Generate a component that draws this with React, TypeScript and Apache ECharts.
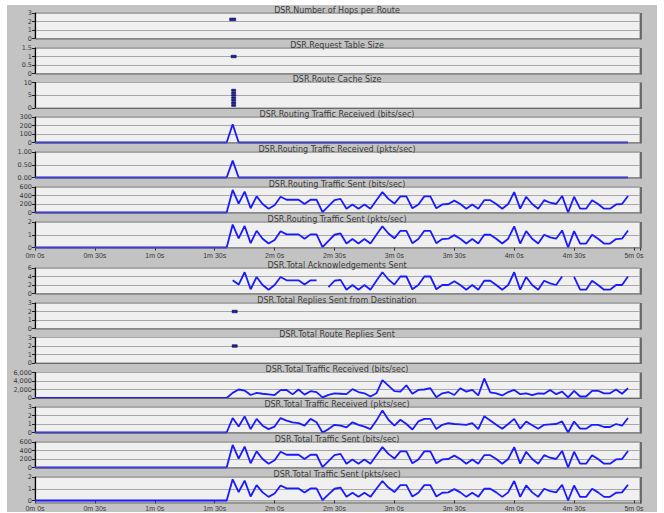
import React, { useEffect, useRef } from 'react';
import * as echarts from 'echarts';

// ---------- data (seconds of simulation time) ----------
const sampleTimes = [0, 96, 99, 102, 105, 108, 111, 114, 117, 120, 123, 126, 129, 132, 135, 138, 141, 144, 147, 150, 153, 156, 159, 162, 165, 168, 171, 174, 177, 180, 183, 186, 189, 192, 195, 198, 201, 204, 207, 210, 213, 216, 219, 222, 225, 228, 231, 234, 237, 240, 243, 246, 249, 252, 255, 258, 261, 264, 267, 270, 273, 276, 279, 282, 285, 288, 291, 294, 297];

const routingTrafficSentBits = [0, 0, 530, 210, 490, 100, 380, 200, 90, 170, 370, 300, 300, 300, 200, 300, 300, 10, 150, 290, 320, 90, 190, 90, 190, 90, 290, 480, 320, 210, 380, 380, 100, 190, 380, 380, 100, 190, 200, 280, 200, 90, 190, 90, 290, 290, 200, 90, 200, 480, 90, 370, 200, 90, 290, 230, 200, 390, 0, 370, 90, 90, 290, 200, 90, 90, 190, 200, 390];

const routingTrafficSentPkts = [0, 0, 1.8, 0.72, 1.69, 0.34, 1.31, 0.69, 0.31, 0.59, 1.28, 1.03, 1.03, 1.03, 0.69, 1.03, 1.03, 0.03, 0.52, 1.0, 1.1, 0.31, 0.66, 0.31, 0.66, 0.31, 1.0, 1.66, 1.1, 0.72, 1.31, 1.31, 0.34, 0.66, 1.31, 1.31, 0.34, 0.66, 0.69, 0.97, 0.69, 0.31, 0.66, 0.31, 1.0, 1.0, 0.69, 0.31, 0.69, 1.66, 0.31, 1.28, 0.69, 0.31, 1.0, 0.79, 0.69, 1.34, 0, 1.28, 0.31, 0.31, 1.0, 0.69, 0.31, 0.31, 0.66, 0.69, 1.34];

const acknowledgementsSent = [null, null, 3.1, 2.1, 5.0, 1.0, 3.9, 2.0, 0.9, 2.0, 3.9, 3.1, 3.1, 3.1, 2.1, 3.1, 3.1, null, 1.5, 3.0, 3.2, 0.9, 2.0, 0.9, 2.0, 0.9, 3.0, 5.0, 3.3, 2.1, 4.0, 4.0, 1.0, 2.0, 4.0, 4.0, 1.0, 2.0, 2.0, 2.9, 2.0, 0.9, 2.0, 0.9, 3.0, 3.0, 2.0, 0.9, 2.0, 5.0, 0.9, 3.9, 2.0, 0.9, 3.0, 2.4, 2.0, 4.0, null, 3.9, 0.9, 0.9, 3.0, 2.0, 0.9, 0.9, 2.0, 2.0, 4.0];

const totalTrafficReceivedBits = [0, 0, 1200, 2000, 1750, 700, 1200, 1000, 850, 700, 1850, 1900, 850, 2000, 800, 1600, 1400, 150, 750, 1100, 1000, 900, 2100, 1400, 1100, 350, 1100, 4200, 2900, 1600, 1500, 3000, 1000, 1900, 2000, 2300, 200, 1100, 1400, 700, 2300, 1500, 1900, 600, 4600, 1300, 1100, 600, 1400, 1900, 900, 1100, 700, 1100, 1000, 1900, 900, 1500, 150, 1700, 350, 350, 1700, 1700, 1100, 1100, 2000, 1000, 2300];

const totalTrafficReceivedPkts = [0, 0, 1.7, 0.7, 1.9, 0.4, 1.6, 0.8, 0.4, 0.7, 1.7, 1.4, 1.2, 1.1, 0.8, 1.6, 1.2, 0, 0.4, 0.9, 0.8, 0.6, 1.2, 0.9, 0.7, 0.4, 1.4, 2.6, 1.5, 0.8, 1.5, 1.0, 0.35, 1.3, 1.6, 1.6, 0.4, 0.9, 1.1, 1.0, 0.95, 0.9, 1.1, 0.4, 1.9, 1.4, 0.9, 0.45, 1.0, 1.6, 0.45, 1.3, 0.85, 0.45, 0.9, 0.95, 1.0, 1.3, 0, 1.3, 0.45, 0.45, 0.9, 0.9, 0.65, 0.65, 1.0, 0.8, 1.7];

const totalTrafficSentBits = routingTrafficSentBits;
const totalTrafficSentPkts = routingTrafficSentPkts;

const routingReceivedTimes = [0, 96, 99, 102, 297];
const routingTrafficReceivedBits = [0, 0, 215, 0, 0];
const routingTrafficReceivedPkts = [0, 0, 0.66, 0, 0];

const hopsTimes = [99];
const hopsPerRoute = [2.25];
const requestTableTimes = [99.5];
const requestTableSize = [1];
const routeCacheTimes = [99.5, 99.5, 99.5, 99.5, 99.5, 99.5, 99.5];
const routeCacheSize = [1, 2, 3, 4, 5, 6, 7];
const repliesTimes = [100];
const repliesFromDestination = [2];
const routeRepliesTimes = [100];
const routeRepliesSent = [2];

const panelTitles = [
  'DSR.Number of Hops per Route',
  'DSR.Request Table Size',
  'DSR.Route Cache Size',
  'DSR.Routing Traffic Received (bits/sec)',
  'DSR.Routing Traffic Received (pkts/sec)',
  'DSR.Routing Traffic Sent (bits/sec)',
  'DSR.Routing Traffic Sent (pkts/sec)',
  'DSR.Total Acknowledgements Sent',
  'DSR.Total Replies Sent from Destination',
  'DSR.Total Route Replies Sent',
  'DSR.Total Traffic Received (bits/sec)',
  'DSR.Total Traffic Received (pkts/sec)',
  'DSR.Total Traffic Sent (bits/sec)',
  'DSR.Total Traffic Sent (pkts/sec)',
];
const yMaxes = [3, 1.5, 10, 300, 1, 600, 2, 6, 3, 3, 6000, 3, 600, 2];
const yIntervals = [1, 0.5, 5, 100, 0.5, 200, 1, 2, 1, 1, 2000, 1, 200, 1];
const timeTicks = [0, 30, 60, 90, 120, 150, 180, 210, 240, 270, 300];

export default function App() {
  const ref = useRef<HTMLDivElement>(null);
  useEffect(() => {
    const chart = echarts.init(ref.current!, null, { renderer: 'svg' });
    const OX = 7, OY = 5;
    const tops = [13, 48, 82.5, 117, 152, 187, 222, 268, 303, 337.5, 372.5, 407, 442, 477];
    const H = 25.5;
    const L = 35, R = 640;
    const font = 'Arial';
    const wideFont = 'DejaVu Sans';
    const textColor = '#3a3a3a';

    const grids = tops.map((t) => ({
      left: L - OX, top: t - OY, width: R - L, height: H,
      show: true, backgroundColor: '#f0f0f0', borderColor: '#8a8a8a', borderWidth: 1,
    }));
    const fmtTime = (v: number) =>
      timeTicks.indexOf(v) >= 0 ? `${Math.floor(v / 60)}m ${v % 60}s` : '';
    const xAxes = tops.map((_, i) => {
      const showLab = i === 6 || i === 13;
      return {
        type: 'value', gridIndex: i, min: 0, max: 303, interval: 30,
        axisLine: { show: false },
        axisTick: { show: showLab, length: 3, lineStyle: { color: '#222' } },
        axisLabel: { show: showLab, fontSize: 7, color: textColor, margin: 4.5, fontFamily: font, formatter: fmtTime },
        splitLine: { show: false },
      };
    });
    const yFmt = (i: number) => (v: number) => {
      if (i === 4) return v.toFixed(2);
      if (i === 10) return v.toLocaleString('en-US');
      return String(v);
    };
    const yAxes = tops.map((_, i) => ({
      type: 'value', gridIndex: i, min: 0, max: yMaxes[i], interval: yIntervals[i],
      axisLine: { show: true, lineStyle: { color: '#000', width: 1.2 } },
      axisTick: { show: true, length: 3, lineStyle: { color: '#222' } },
      axisLabel: { fontSize: 6.5, color: textColor, margin: 3, fontFamily: wideFont, formatter: yFmt(i) },
      splitLine: { show: true, lineStyle: { color: '#a8a8a8', width: 1 } },
    }));

    const pairs = (xs: number[], ys: (number | null)[]) =>
      xs.map((x, k) => [x, ys[k] === null ? '-' : ys[k]]);
    const line = (i: number, xs: number[], ys: (number | null)[]) => ({
      type: 'line', xAxisIndex: i, yAxisIndex: i, data: pairs(xs, ys),
      showSymbol: false, symbol: 'none', clip: false, connectNulls: false,
      lineStyle: { color: '#1a1aff', width: 1.8 },
    });
    const dots = (i: number, xs: number[], ys: number[], size: number[]) => ({
      type: 'scatter', xAxisIndex: i, yAxisIndex: i, data: pairs(xs, ys),
      symbol: 'rect', symbolSize: size,
      itemStyle: { color: '#1e1ea8', borderColor: '#0a0a50', borderWidth: 0.6, opacity: 1 },
    });

    const series = [
      dots(0, hopsTimes, hopsPerRoute, [6, 2.5]),
      dots(1, requestTableTimes, requestTableSize, [5, 2.5]),
      dots(2, routeCacheTimes, routeCacheSize, [4, 1.8]),
      line(3, routingReceivedTimes, routingTrafficReceivedBits),
      line(4, routingReceivedTimes, routingTrafficReceivedPkts),
      line(5, sampleTimes, routingTrafficSentBits),
      line(6, sampleTimes, routingTrafficSentPkts),
      line(7, sampleTimes, acknowledgementsSent),
      dots(8, repliesTimes, repliesFromDestination, [5, 2.5]),
      dots(9, routeRepliesTimes, routeRepliesSent, [5, 2.5]),
      line(10, sampleTimes, totalTrafficReceivedBits),
      line(11, sampleTimes, totalTrafficReceivedPkts),
      line(12, sampleTimes, totalTrafficSentBits),
      line(13, sampleTimes, totalTrafficSentPkts),
    ];

    const graphics: any[] = [];
    tops.forEach((t, i) => {
      graphics.push({
        type: 'text', x: 337 - OX, y: t - 3 - OY, z: 10,
        style: {
          text: panelTitles[i], fontSize: 8, fontFamily: wideFont, fill: textColor,
          align: 'center', verticalAlign: 'middle', textAlign: 'center', textVerticalAlign: 'middle',
        },
      });
      graphics.push({
        type: 'line', z: 10,
        shape: { x1: R + 1 - OX, y1: t - OY, x2: R + 1 - OX, y2: t + H + 1 - OY },
        style: { stroke: '#555', lineWidth: 1.5 },
      });
      graphics.push({
        type: 'line', z: 10,
        shape: { x1: L - OX, y1: t + H + 0.5 - OY, x2: R + 1 - OX, y2: t + H + 0.5 - OY },
        style: { stroke: '#6a6a6a', lineWidth: 1 },
      });
    });

    chart.setOption({
      animation: false,
      backgroundColor: '#c3c3c3',
      grid: grids,
      xAxis: xAxes,
      yAxis: yAxes,
      series,
      graphic: graphics,
    });
    return () => chart.dispose();
  }, []);
  return (
    <div style={{ position: 'fixed', left: 0, top: 0, width: 664, height: 513, background: '#fff' }}>
      <div ref={ref} style={{ position: 'absolute', left: 7, top: 5, width: 650, height: 507 }} />
    </div>
  );
}
